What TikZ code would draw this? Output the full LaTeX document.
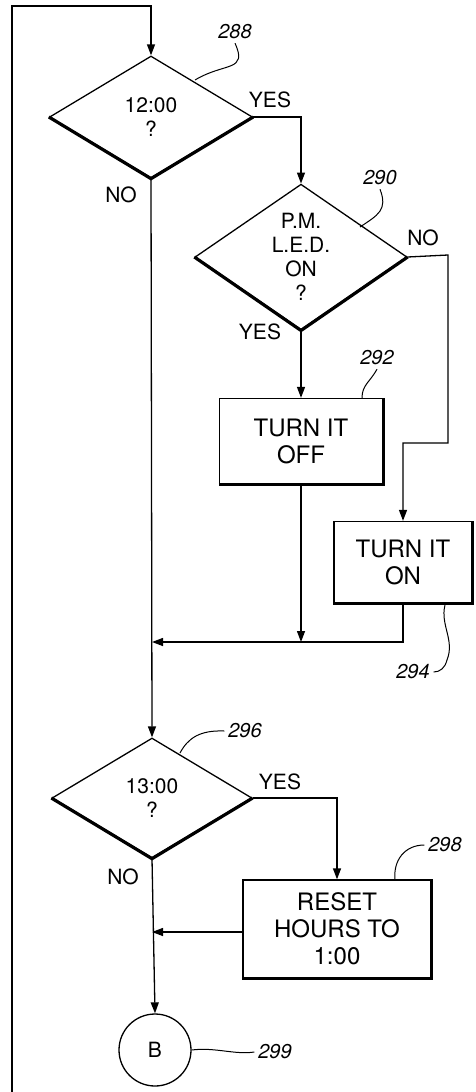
\documentclass[tikz,border=0pt]{standalone}
\usepackage{fontspec}
\setmainfont{TeX Gyre Heros}
\usetikzlibrary{shapes.geometric,arrows.meta}
\begin{document}
\begin{tikzpicture}[x=1pt,y=-1pt,
  line width=1.3pt,
  dec/.style={draw,diamond,inner sep=0pt,align=center,font=\fontsize{21}{24}\selectfont},
  procbox/.style={draw,rectangle,inner sep=0pt,align=center,font=\fontsize{24}{27}\selectfont},
  conn/.style={draw,circle,inner sep=0pt,minimum size=72pt,font=\fontsize{21}{24}\selectfont},
  lbl/.style={font=\fontsize{21}{24}\selectfont},
  refno/.style={font=\itshape\fontsize{20}{22}\selectfont},
  shade/.style={line width=3.2pt},
  arr/.style={-{Triangle[length=11pt,width=8pt]}},
  leader/.style={line width=1pt}
]
\useasboundingbox (0,0) rectangle (475,1092);

% decisions
\node[dec,minimum width=203pt,minimum height=122pt] (d288) at (151,117) {12:00\\?};
\node[dec,minimum width=212pt,minimum height=129pt] (d290) at (301,257) {P.M.\\L.E.D.\\ON\\?};
\node[dec,minimum width=200pt,minimum height=120pt] (d296) at (152,798) {13:00\\?};
% processes
\node[procbox,minimum width=163pt,minimum height=85pt] (b292) at (301,441) {TURN IT\\OFF};
\node[procbox,minimum width=138pt,minimum height=81pt] (b294) at (403,562) {TURN IT\\ON};
\node[procbox,minimum width=188pt,minimum height=98pt] (b298) at (337,929) {RESET\\HOURS TO\\1:00};
% connector
\node[conn] (cB) at (155,1050) {B};

% shading edges
\draw[shade,line join=miter] (d288.west) -- (d288.south) -- (d288.east);
\draw[shade,line join=miter] (d290.west) -- (d290.south) -- (d290.east);
\draw[shade,line join=miter] (d296.west) -- (d296.south) -- (d296.east);
\draw[shade] (b292.south west) -- (b292.south east) -- (b292.north east);
\draw[shade] (b294.south west) -- (b294.south east) -- (b294.north east);
\draw[shade] (b298.south west) -- (b298.south east) -- (b298.north east);

% coordinates
\coordinate (loopbot) at (12,1092);
\coordinate (looptl) at (12,6);
\coordinate (looptr) at (151,6);
\coordinate (yes1) at (301,117);
\coordinate (no1) at (448,255);
\coordinate (no2) at (448,443);
\coordinate (no3) at (403,443);
\coordinate (m1) at (301,642);
\coordinate (m2) at (152,642);
\coordinate (r1) at (337,798);
\coordinate (r2) at (152,932);

% flow lines
\draw[arr] (loopbot) -- (looptl) -- (looptr) -- (d288.north);
\draw[arr] (d288.east) -- (yes1) -- (d290.north);
\draw[arr] (d290.south) -- (b292.north);
\draw[arr] (d290.east) -- (no1) -- (no2) -- (no3) -- (b294.north);
\draw[arr] (b292.south) -- (m1);
\draw[arr] (b294.south) |- (m2);
\draw[arr] (d288.south) -- (d296.north);
\draw[arr] (d296.east) -- (r1) -- (b298.north);
\draw[arr] (b298.west |- r2) -- (r2);
\draw[arr] (d296.south) -- (cB.north);

% branch labels
\node[lbl] (y288) at (270,100) {YES};
\node[lbl] (n288) at (121,195) {NO};
\node[lbl] (n290) at (423,238) {NO};
\node[lbl] (y290) at (260,332) {YES};
\node[lbl] (y296) at (280,782) {YES};
\node[lbl] (n296) at (123,877) {NO};

% reference numerals and leaders
\node[refno] (t288) at (235,32) {288};
\draw[leader] (195,80) .. controls (225,62) and (248,72) .. (t288.south);
\node[refno] (t290) at (380,178) {290};
\draw[leader] (360,227) .. controls (378,215) and (388,210) .. (t290.south);
\node[refno] (t292) at (377,358) {292};
\draw[leader] (362,398) .. controls (362,385) and (370,382) .. (t292.south);
\node[refno] (t294) at (413,672) {294};
\draw[leader] (445,605) .. controls (440,625) and (455,640) .. (447,660) .. controls (445,668) and (440,672) .. (t294.east);
\node[refno] (t296) at (245,731) {296};
\draw[leader] (180,753) .. controls (188,738) and (200,730) .. (t296.west);
\node[refno] (t298) at (445,845) {298};
\draw[leader] (395,880) .. controls (393,860) and (405,845) .. (t298.west);
\node[refno] (t299) at (275,1052) {299};
\draw[leader] (cB.east) .. controls (215,1047) and (235,1055) .. (t299.west);
\end{tikzpicture}
\end{document}
